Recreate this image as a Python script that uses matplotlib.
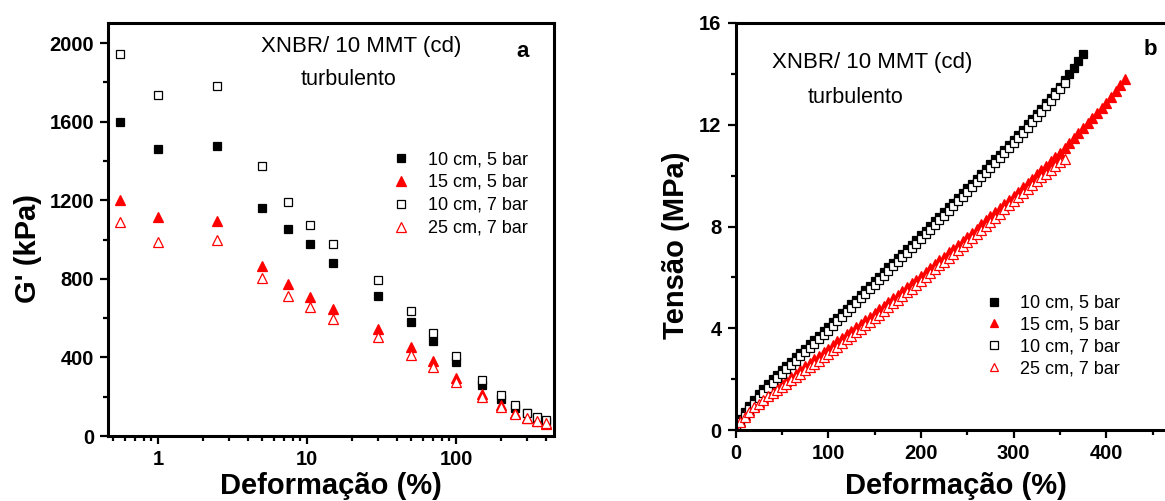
import matplotlib
matplotlib.use("Agg")
import matplotlib.pyplot as plt
from matplotlib.ticker import MultipleLocator, LogLocator, NullFormatter, FixedLocator

plt.rcParams['font.family'] = ['Liberation Sans', 'DejaVu Sans']

labels = ['10 cm, 5 bar', '15 cm, 5 bar', '10 cm, 7 bar', '25 cm, 7 bar']

# panel a: G' vs strain (log)
strain_a = [0.56, 1, 2.5, 5, 7.5, 10.5, 15, 30, 50, 70, 100, 150, 200, 250, 300, 350, 400]
g_10cm_5bar = [1600, 1459, 1475, 1158, 1056, 976, 881, 711, 582, 483, 378, 260, 187, 142, 115, 90, 73]
g_15cm_5bar = [1200, 1114, 1095, 867, 773, 707, 646, 546, 451, 382, 297, 212, 158, 115, 93, 76, 63]
g_10cm_7bar = [1946, 1737, 1781, 1376, 1190, 1076, 978, 792, 634, 523, 409, 287, 207, 156, 119, 98, 80]
g_25cm_7bar = [1090, 988, 997, 802, 714, 655, 595, 502, 412, 350, 275, 197, 146, 112, 90, 76, 65]

# panel b: stress-strain
eps_10cm_5bar = [0, 5, 10, 15, 20, 25, 30, 35, 40, 45, 50, 55, 60, 65, 70, 75, 80, 85, 90, 95,
                 100, 105, 110, 115, 120, 125, 130, 135, 140, 145, 150, 155, 160, 165, 170, 175,
                 180, 185, 190, 195, 200, 205, 210, 215, 220, 225, 230, 235, 240, 245, 250, 255,
                 260, 265, 270, 275, 280, 285, 290, 295, 300, 305, 310, 315, 320, 325, 330, 335,
                 340, 345, 350, 355, 360, 365, 370, 375]
s_10cm_5bar = [0.10, 0.42, 0.70, 0.95, 1.18, 1.40, 1.61, 1.81, 2.00, 2.18, 2.35, 2.52, 2.69, 2.86,
               3.03, 3.20, 3.37, 3.54, 3.71, 3.88, 4.05, 4.23, 4.41, 4.59, 4.77, 4.95, 5.13, 5.31,
               5.49, 5.67, 5.85, 6.03, 6.21, 6.39, 6.57, 6.75, 6.93, 7.11, 7.29, 7.47, 7.65, 7.83,
               8.02, 8.20, 8.39, 8.57, 8.76, 8.94, 9.13, 9.31, 9.50, 9.69, 9.88, 10.07, 10.26,
               10.45, 10.64, 10.83, 11.02, 11.21, 11.40, 11.60, 11.80, 12.01, 12.21, 12.42, 12.63,
               12.85, 13.06, 13.28, 13.50, 13.74, 13.99, 14.24, 14.50, 14.77]

eps_15cm_5bar = [0, 5, 10, 15, 20, 25, 30, 35, 40, 45, 50, 55, 60, 65, 70, 75, 80, 85, 90, 95,
                 100, 105, 110, 115, 120, 125, 130, 135, 140, 145, 150, 155, 160, 165, 170, 175,
                 180, 185, 190, 195, 200, 205, 210, 215, 220, 225, 230, 235, 240, 245, 250, 255,
                 260, 265, 270, 275, 280, 285, 290, 295, 300, 305, 310, 315, 320, 325, 330, 335,
                 340, 345, 350, 355, 360, 365, 370, 375, 380, 385, 390, 395, 400, 405, 410, 415, 420]
s_15cm_5bar = [0.10, 0.35, 0.58, 0.78, 0.96, 1.12, 1.27, 1.41, 1.55, 1.68, 1.80, 1.94, 2.08, 2.22,
               2.36, 2.50, 2.64, 2.78, 2.92, 3.06, 3.20, 3.34, 3.48, 3.62, 3.76, 3.90, 4.04, 4.18,
               4.32, 4.46, 4.60, 4.74, 4.89, 5.03, 5.18, 5.32, 5.47, 5.61, 5.76, 5.90, 6.05, 6.20,
               6.36, 6.51, 6.67, 6.82, 6.98, 7.13, 7.29, 7.44, 7.60, 7.76, 7.92, 8.08, 8.24, 8.40,
               8.56, 8.72, 8.88, 9.04, 9.20, 9.37, 9.54, 9.71, 9.88, 10.05, 10.22, 10.39, 10.56,
               10.73, 10.90, 11.09, 11.28, 11.48, 11.67, 11.87, 12.06, 12.26, 12.45, 12.65, 12.85,
               13.08, 13.31, 13.55, 13.80]

eps_10cm_7bar = [0, 5, 10, 15, 20, 25, 30, 35, 40, 45, 50, 55, 60, 65, 70, 75, 80, 85, 90, 95,
                 100, 105, 110, 115, 120, 125, 130, 135, 140, 145, 150, 155, 160, 165, 170, 175,
                 180, 185, 190, 195, 200, 205, 210, 215, 220, 225, 230, 235, 240, 245, 250, 255,
                 260, 265, 270, 275, 280, 285, 290, 295, 300, 305, 310, 315, 320, 325, 330, 335,
                 340, 345, 350, 355]
s_10cm_7bar = [0.05, 0.30, 0.56, 0.81, 1.04, 1.26, 1.47, 1.67, 1.86, 2.04, 2.21, 2.38, 2.55, 2.72,
               2.89, 3.06, 3.23, 3.40, 3.57, 3.74, 3.91, 4.09, 4.27, 4.45, 4.63, 4.81, 4.99, 5.17,
               5.35, 5.53, 5.71, 5.89, 6.07, 6.25, 6.43, 6.61, 6.79, 6.97, 7.15, 7.33, 7.51, 7.69,
               7.88, 8.06, 8.25, 8.43, 8.62, 8.80, 8.99, 9.17, 9.36, 9.55, 9.74, 9.93, 10.12, 10.31,
               10.50, 10.69, 10.88, 11.07, 11.27, 11.47, 11.67, 11.88, 12.09, 12.30, 12.51, 12.73,
               12.95, 13.17, 13.40, 13.64]

eps_25cm_7bar = [0, 5, 10, 15, 20, 25, 30, 35, 40, 45, 50, 55, 60, 65, 70, 75, 80, 85, 90, 95,
                 100, 105, 110, 115, 120, 125, 130, 135, 140, 145, 150, 155, 160, 165, 170, 175,
                 180, 185, 190, 195, 200, 205, 210, 215, 220, 225, 230, 235, 240, 245, 250, 255,
                 260, 265, 270, 275, 280, 285, 290, 295, 300, 305, 310, 315, 320, 325, 330, 335,
                 340, 345, 350, 355]
s_25cm_7bar = [0.05, 0.30, 0.52, 0.72, 0.89, 1.04, 1.18, 1.32, 1.45, 1.57, 1.69, 1.82, 1.95, 2.08,
               2.21, 2.34, 2.47, 2.60, 2.73, 2.86, 3.00, 3.14, 3.28, 3.42, 3.56, 3.70, 3.84, 3.98,
               4.12, 4.26, 4.40, 4.54, 4.69, 4.83, 4.98, 5.12, 5.27, 5.41, 5.56, 5.70, 5.85, 6.00,
               6.16, 6.31, 6.47, 6.62, 6.78, 6.93, 7.09, 7.24, 7.40, 7.56, 7.72, 7.87, 8.03, 8.19,
               8.35, 8.51, 8.67, 8.83, 8.99, 9.15, 9.31, 9.47, 9.63, 9.79, 9.93, 10.08, 10.23,
               10.38, 10.52, 10.65]

red = '#ff0000'

fig = plt.figure(figsize=(11.65, 5.01), dpi=100)
ax1 = fig.add_axes([108 / 1165, 65 / 501, 446 / 1165, 413 / 501])
ax2 = fig.add_axes([735.5 / 1165, 71 / 501, 463.5 / 1165, 407 / 501])

styles = [
    dict(marker='s', color='black', mfc='black', mec='black'),
    dict(marker='^', color=red, mfc=red, mec=red),
    dict(marker='s', color='black', mfc='white', mec='black'),
    dict(marker='^', color=red, mfc='white', mec=red),
]

# --- panel a
for ys, st, lab in zip([g_10cm_5bar, g_15cm_5bar, g_10cm_7bar, g_25cm_7bar], styles, labels):
    ms = 6 if st['marker'] == 's' else 7.5
    ax1.plot(strain_a, ys, ls='none', ms=ms, mew=0.9, label=lab, **st)

ax1.set_xscale('log')
ax1.set_xlim(0.462, 455)
ax1.set_ylim(0, 2102)
ax1.xaxis.set_major_locator(FixedLocator([1, 10, 100]))
ax1.set_xticklabels(['1', '10', '100'])
ax1.xaxis.set_minor_locator(LogLocator(base=10, subs=range(2, 10)))
ax1.xaxis.set_minor_formatter(NullFormatter())
ax1.yaxis.set_major_locator(MultipleLocator(400))
ax1.yaxis.set_minor_locator(MultipleLocator(200))
ax1.set_ylabel("G' (kPa)", fontsize=21, fontweight='bold')
ax1.set_xlabel('Deformação (%)', fontsize=21, fontweight='bold')
ax1.yaxis.label.set_verticalalignment('center')
ax1.yaxis.set_label_coords(-0.18, 0.455)
ax1.xaxis.set_label_coords(0.5, -0.087)

ax1.text(0.567, 0.942, 'XNBR/ 10 MMT (cd)', transform=ax1.transAxes, fontsize=16,
         ha='center', va='center')
ax1.text(0.540, 0.864, 'turbulento', transform=ax1.transAxes, fontsize=15.5,
         ha='center', va='center')
ax1.text(0.930, 0.930, 'a', transform=ax1.transAxes, fontsize=16, fontweight='bold',
         ha='center', va='center')
ax1.legend(loc='upper left', bbox_to_anchor=(0.637, 0.690), frameon=False, fontsize=13,
           handlelength=1.0, handletextpad=1.0, labelspacing=0.33, borderpad=0,
           borderaxespad=0, numpoints=1)

# --- panel b
series_b = [(eps_10cm_5bar, s_10cm_5bar), (eps_15cm_5bar, s_15cm_5bar),
            (eps_10cm_7bar, s_10cm_7bar), (eps_25cm_7bar, s_25cm_7bar)]
for (xs, ys), st, lab in zip(series_b, styles, labels):
    ms = 6 if st['marker'] == 's' else 7.5
    ax2.plot(xs, ys, ls='none', ms=ms, mew=0.9, label=lab, **st)

ax2.set_xlim(0, 500)
ax2.set_ylim(0, 16)
ax2.xaxis.set_major_locator(FixedLocator([0, 100, 200, 300, 400]))
ax2.xaxis.set_minor_locator(MultipleLocator(50))
ax2.yaxis.set_major_locator(MultipleLocator(4))
ax2.yaxis.set_minor_locator(MultipleLocator(2))
ax2.set_ylabel('Tensão (MPa)', fontsize=21, fontweight='bold')
ax2.set_xlabel('Deformação (%)', fontsize=21, fontweight='bold')
ax2.yaxis.label.set_verticalalignment('center')
ax2.yaxis.set_label_coords(-0.128, 0.455)
ax2.xaxis.set_label_coords(0.476, -0.103)

ax2.text(0.2945, 0.902, 'XNBR/ 10 MMT (cd)', transform=ax2.transAxes, fontsize=16,
         ha='center', va='center')
ax2.text(0.258, 0.816, 'turbulento', transform=ax2.transAxes, fontsize=15.5,
         ha='center', va='center')
ax2.text(0.896, 0.934, 'b', transform=ax2.transAxes, fontsize=16, fontweight='bold',
         ha='center', va='center')
ax2.legend(loc='upper left', bbox_to_anchor=(0.538, 0.332), frameon=False, fontsize=13,
           handlelength=1.0, handletextpad=0.95, labelspacing=0.27, borderpad=0,
           borderaxespad=0, numpoints=1, markerscale=0.85)

for ax in (ax1, ax2):
    for sp in ax.spines.values():
        sp.set_linewidth(2.2)
    ax.tick_params(which='both', direction='out', top=False, right=False, width=1.6)
    ax.tick_params(which='major', length=6, pad=4, labelsize=14.5)
    ax.tick_params(which='minor', length=3.5)
    for t in ax.get_xticklabels() + ax.get_yticklabels():
        t.set_fontweight('bold')

fig.savefig('out.png', dpi=100)
